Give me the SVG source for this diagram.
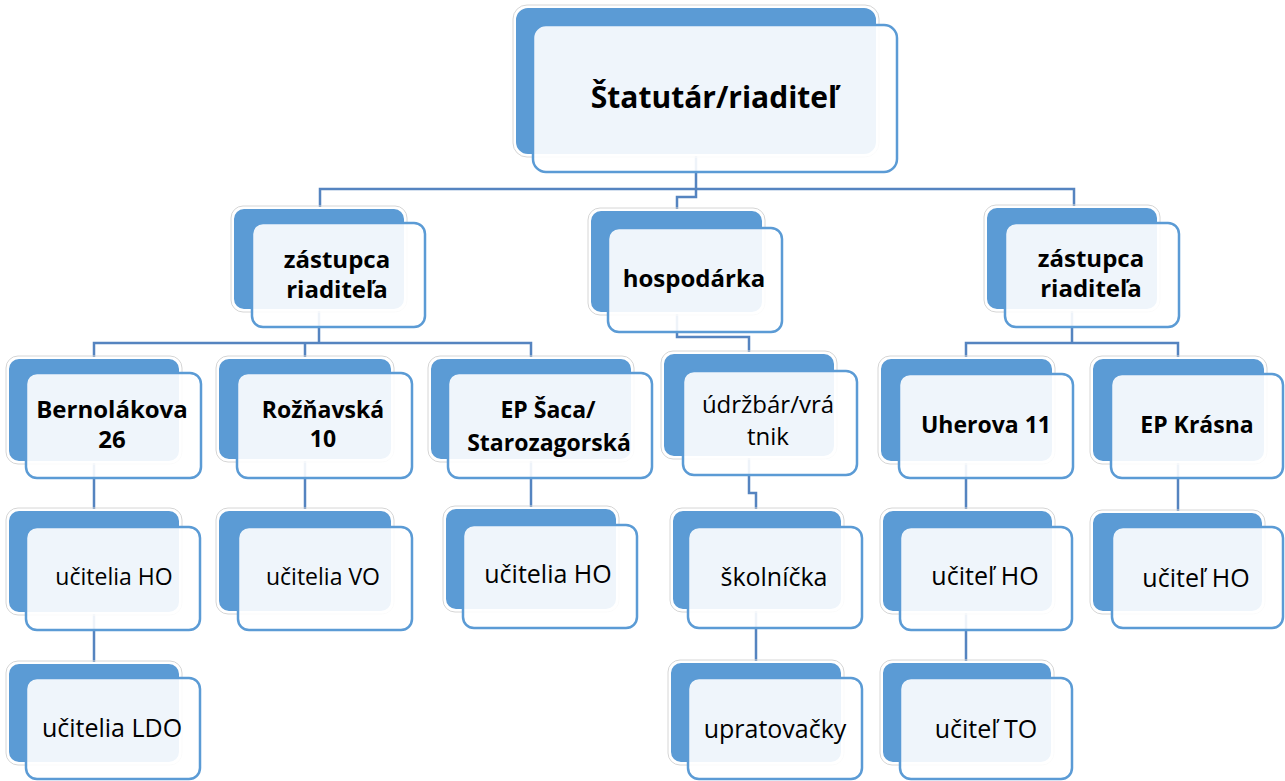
<svg xmlns="http://www.w3.org/2000/svg" width="1285" height="781" viewBox="0 0 1285 781">
<style>
.bg{fill:#ffffff}
.back{fill:#5b9bd5;stroke:#ffffff;stroke-width:2}
.halo{fill:none;stroke:#d6d6d6;stroke-width:1}
.front{fill:#ffffff;fill-opacity:0.9;stroke:#5b9bd5;stroke-width:2.5}
.conn{fill:none;stroke:#5584c0;stroke-width:2.5}
.b{font-family:"Open Sans","Noto Sans","Liberation Sans",sans-serif;font-weight:700;fill:#000;text-anchor:middle}
.r{font-family:"Open Sans","Noto Sans","Liberation Sans",sans-serif;font-weight:400;fill:#000;text-anchor:middle}
</style>
<rect class="bg" x="0" y="0" width="1285" height="781"/>
<g id="connectors">
<path class="conn" d="M320,208 V189 H1074 V207 M696,155 V189"/>
<path class="conn" d="M696,189 V197 H677 V210"/>
<path class="conn" d="M319,310 V343 M94,358 V343 H531 V358 M305,343 V358"/>
<path class="conn" d="M677,313 V337 H749 V353"/>
<path class="conn" d="M1072,310 V343 M966,358 V343 H1178 V358"/>
<path class="conn" d="M94,462 V510 M94,613 V663"/>
<path class="conn" d="M305,460 V510"/>
<path class="conn" d="M531,460 V508"/>
<path class="conn" d="M749,457 V493 H756 V510 M756,610 V662"/>
<path class="conn" d="M966,462 V510 M966,612 V662"/>
<path class="conn" d="M1178,462 V512"/>
</g>
<g id="n-statutar">
<rect class="halo" x="513" y="5" width="366" height="152" rx="14"/>
<rect class="back" x="515" y="7" width="362" height="148" rx="13"/>
<rect class="front" x="533" y="25" width="364" height="147" rx="13"/>
<text class="b" x="714" y="108" font-size="30">Štatutár/riaditeľ</text>
</g>
<g id="n-zastupca-l">
<rect class="halo" x="231" y="206" width="176" height="106" rx="12"/>
<rect class="back" x="233" y="208" width="172" height="102" rx="11"/>
<rect class="front" x="252" y="223" width="173" height="104" rx="11"/>
<text class="b" x="337" y="268" font-size="24">zástupca</text>
<text class="b" x="337" y="298" font-size="24">riaditeľa</text>
</g>
<g id="n-hospodarka">
<rect class="halo" x="588" y="208" width="177" height="107" rx="12"/>
<rect class="back" x="590" y="210" width="173" height="103" rx="11"/>
<rect class="front" x="608" y="228" width="174" height="104" rx="11"/>
<text class="b" x="694" y="287" font-size="24">hospodárka</text>
</g>
<g id="n-zastupca-r">
<rect class="halo" x="984" y="205" width="176" height="107" rx="12"/>
<rect class="back" x="986" y="207" width="172" height="103" rx="11"/>
<rect class="front" x="1005" y="223" width="174" height="104" rx="11"/>
<text class="b" x="1091" y="267" font-size="24">zástupca</text>
<text class="b" x="1091" y="297" font-size="24">riaditeľa</text>
</g>
<g id="n-bernolakova">
<rect class="halo" x="6" y="356" width="176" height="108" rx="12"/>
<rect class="back" x="8" y="358" width="172" height="104" rx="11"/>
<rect class="front" x="26" y="373" width="175" height="105" rx="11"/>
<text class="b" x="112" y="418" font-size="24">Bernolákova</text>
<text class="b" x="112" y="448" font-size="24">26</text>
</g>
<g id="n-roznavska">
<rect class="halo" x="216" y="356" width="178" height="106" rx="12"/>
<rect class="back" x="218" y="358" width="174" height="102" rx="11"/>
<rect class="front" x="237" y="373" width="175" height="105" rx="11"/>
<text class="b" x="323" y="418" font-size="23">Rožňavská</text>
<text class="b" x="323" y="447" font-size="23">10</text>
</g>
<g id="n-epsaca">
<rect class="halo" x="428" y="356" width="206" height="106" rx="12"/>
<rect class="back" x="430" y="358" width="202" height="102" rx="11"/>
<rect class="front" x="448" y="373" width="204" height="105" rx="11"/>
<text class="b" x="548" y="418" font-size="23">EP Šaca/</text>
<text class="b" x="549" y="451" font-size="23">Starozagorská</text>
</g>
<g id="n-udrzbar">
<rect class="halo" x="661" y="351" width="176" height="108" rx="12"/>
<rect class="back" x="663" y="353" width="172" height="104" rx="11"/>
<rect class="front" x="683" y="371" width="174" height="104" rx="11"/>
<text class="r" x="768" y="413" font-size="24">údržbár/vrá</text>
<text class="r" x="768" y="445" font-size="24">tnik</text>
</g>
<g id="n-uherova">
<rect class="halo" x="878" y="356" width="177" height="108" rx="12"/>
<rect class="back" x="880" y="358" width="173" height="104" rx="11"/>
<rect class="front" x="899" y="374" width="174" height="104" rx="11"/>
<text class="b" x="986" y="433" font-size="23">Uherova 11</text>
</g>
<g id="n-krasna">
<rect class="halo" x="1090" y="356" width="177" height="108" rx="12"/>
<rect class="back" x="1092" y="358" width="173" height="104" rx="11"/>
<rect class="front" x="1111" y="374" width="172" height="104" rx="11"/>
<text class="b" x="1197" y="433" font-size="23">EP Krásna</text>
</g>
<g id="n-ucitelia-ho-1">
<rect class="halo" x="6" y="508" width="176" height="107" rx="12"/>
<rect class="back" x="8" y="510" width="172" height="103" rx="11"/>
<rect class="front" x="26" y="527" width="174" height="103" rx="11"/>
<text class="r" x="114" y="585" font-size="23">učitelia HO</text>
</g>
<g id="n-ucitelia-ldo">
<rect class="halo" x="6" y="661" width="176" height="104" rx="12"/>
<rect class="back" x="8" y="663" width="172" height="100" rx="11"/>
<rect class="front" x="26" y="678" width="174" height="101" rx="11"/>
<text class="r" x="112" y="737" font-size="25">učitelia LDO</text>
</g>
<g id="n-ucitelia-vo">
<rect class="halo" x="216" y="508" width="178" height="106" rx="12"/>
<rect class="back" x="218" y="510" width="174" height="102" rx="11"/>
<rect class="front" x="238" y="527" width="174" height="103" rx="11"/>
<text class="r" x="323" y="585" font-size="23">učitelia VO</text>
</g>
<g id="n-ucitelia-ho-2">
<rect class="halo" x="443" y="506" width="176" height="106" rx="12"/>
<rect class="back" x="445" y="508" width="172" height="102" rx="11"/>
<rect class="front" x="463" y="525" width="174" height="103" rx="11"/>
<text class="r" x="548" y="583" font-size="25">učitelia HO</text>
</g>
<g id="n-skolnicka">
<rect class="halo" x="670" y="508" width="174" height="104" rx="12"/>
<rect class="back" x="672" y="510" width="170" height="100" rx="11"/>
<rect class="front" x="688" y="527" width="174" height="101" rx="11"/>
<text class="r" x="774" y="586" font-size="25">školníčka</text>
</g>
<g id="n-upratovacky">
<rect class="halo" x="668" y="660" width="176" height="105" rx="12"/>
<rect class="back" x="670" y="662" width="172" height="101" rx="11"/>
<rect class="front" x="688" y="678" width="174" height="101" rx="11"/>
<text class="r" x="775" y="738" font-size="25">upratovačky</text>
</g>
<g id="n-ucitel-ho-1">
<rect class="halo" x="880" y="508" width="175" height="106" rx="12"/>
<rect class="back" x="882" y="510" width="171" height="102" rx="11"/>
<rect class="front" x="900" y="527" width="172" height="103" rx="11"/>
<text class="r" x="985" y="585" font-size="25">učiteľ HO</text>
</g>
<g id="n-ucitel-to">
<rect class="halo" x="880" y="660" width="174" height="105" rx="12"/>
<rect class="back" x="882" y="662" width="170" height="101" rx="11"/>
<rect class="front" x="900" y="678" width="172" height="101" rx="11"/>
<text class="r" x="986" y="738" font-size="25">učiteľ TO</text>
</g>
<g id="n-ucitel-ho-2">
<rect class="halo" x="1090" y="510" width="175" height="104" rx="12"/>
<rect class="back" x="1092" y="512" width="171" height="100" rx="11"/>
<rect class="front" x="1112" y="527" width="171" height="101" rx="11"/>
<text class="r" x="1196" y="587" font-size="25">učiteľ HO</text>
</g>
</svg>
